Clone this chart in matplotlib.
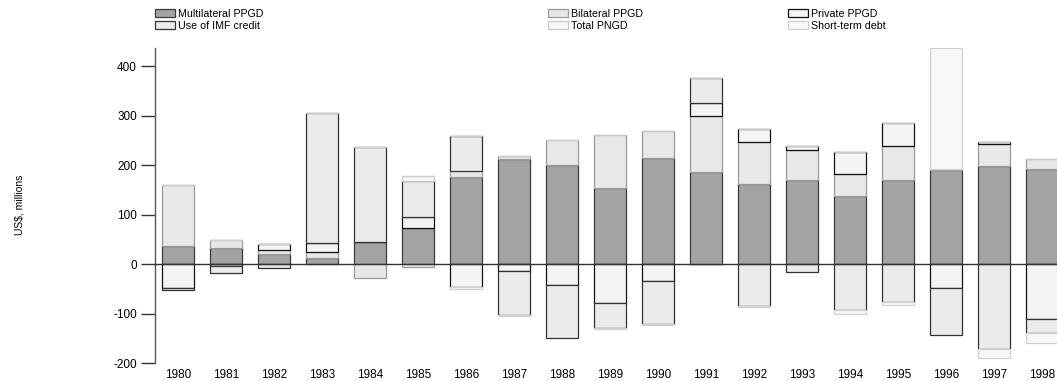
import numpy as np
import matplotlib
matplotlib.use("Agg")
import matplotlib.pyplot as plt

plt.rcParams['font.family'] = ['Liberation Sans', 'DejaVu Sans']
plt.rcParams['axes.unicode_minus'] = False

years = ["1980", "1981", "1982", "1983", "1984", "1985", "1986", "1987", "1988", "1989",
         "1990", "1991", "1992", "1993", "1994", "1995", "1996", "1997", "1998"]

# Net flows by debt type, US$ millions
multilateral = [36, 32, 21, 12, 44, 74, 177, 212, 201, 154, 214, 187, 162, 170, 138, 170, 191, 199, 193]
bilateral    = [124, 17, 8, 12, -27, -5, 11, 7, 50, 107, 55, 113, 84, 61, 44, 69, 1, 43, 20]
private      = [-48, -4, 12, 18, 1, 21, -46, -13, -41, -79, -33, 25, 28, 8, 44, 47, -48, 4, -110]
imf_credit   = [-5, -14, -7, 263, 191, 73, 71, -89, -107, -50, -88, 51, -84, -16, -93, -76, -94, -171, -28]
total_pngd   = [0, 0, 0, 0, 0, 10, 0, 0, 0, 0, 0, 0, 0, 0, 0, 0, 0, 0, 0]
short_term   = [0, 0, 0, 0, 0, 0, -4, -2, 0, -2, -2, -1, -2, 0, -7, -6, 245, -19, -22]

series = [
    ("Multilateral PPGD", multilateral, "#a3a3a3", "#3c3c3c"),
    ("Bilateral PPGD",    bilateral,    "#e8e8e8", "#9a9a9a"),
    ("Private PPGD",      private,      "#f4f4f4", "#111111"),
    ("Use of IMF credit", imf_credit,   "#ebebeb", "#333333"),
    ("Total PNGD",        total_pngd,   "#f7f7f7", "#c8c8c8"),
    ("Short-term debt",   short_term,   "#f8f8f8", "#d0d0d0"),
]

W, H = 1057, 381
fig = plt.figure(figsize=(W / 100, H / 100), dpi=100)

x = np.arange(len(years))
ax = fig.add_axes([155 / W, (H - 363.3) / H, 916 / W, 315 / H])

pos_base = np.zeros(len(years))
neg_base = np.zeros(len(years))
handles = {}
for name, vals, face, edge in series:
    v = np.asarray(vals, dtype=float)
    bottoms = np.where(v >= 0, pos_base, neg_base)
    bars = ax.bar(x, v, width=0.67, bottom=bottoms, color=face,
                  edgecolor=edge, linewidth=0.9, label=name, zorder=2)
    handles[name] = bars
    pos_base += np.where(v > 0, v, 0)
    neg_base += np.where(v < 0, v, 0)

ax.axhline(0, color="#333333", linewidth=1.0, zorder=3)

ax.set_xlim(-0.48, 18.6)
ax.set_ylim(-200, 436)
ax.set_yticks([-200, -100, 0, 100, 200, 300, 400])
ax.set_xticks(x)
ax.set_xticklabels(years)
ax.tick_params(axis="x", length=0, pad=4, labelsize=8.5)
ax.tick_params(axis="y", direction="out", length=10, width=1, color="#333333",
               labelsize=8.5, pad=3)
for s in ("top", "right", "bottom"):
    ax.spines[s].set_visible(False)
ax.spines["left"].set_color("#555555")
ax.spines["left"].set_linewidth(1.0)

fig.text(20 / W, 1 - 205 / H, "US$, millions", rotation=90, fontsize=7.5,
         ha="center", va="center")

legend_cols = [
    (155, ["Multilateral PPGD", "Use of IMF credit"]),
    (548, ["Bilateral PPGD", "Total PNGD"]),
    (788, ["Private PPGD", "Short-term debt"]),
]
for xpix, names in legend_cols:
    fig.legend([handles[n] for n in names], names, loc="upper left",
               bbox_to_anchor=(xpix / W, 1 - 9 / H), frameon=False, fontsize=7.7,
               borderpad=0, borderaxespad=0, handlelength=1.85, handleheight=0.75,
               handletextpad=0.3, labelspacing=0.2)

fig.savefig("out.png", dpi=100)
